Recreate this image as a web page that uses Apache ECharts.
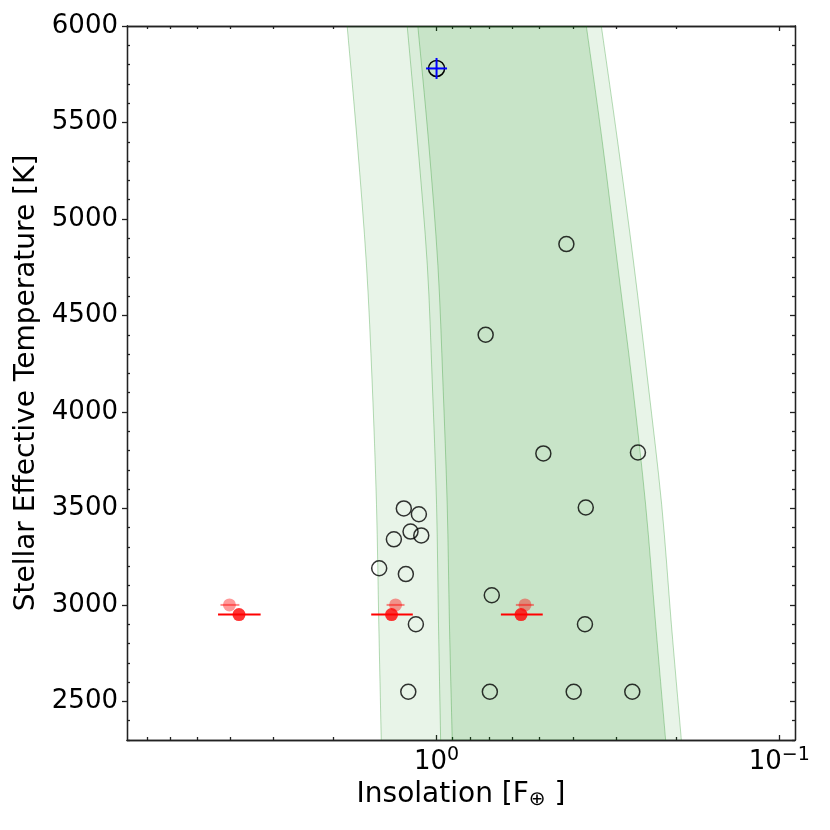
<!DOCTYPE html>
<html>
<head>
<meta charset="utf-8">
<script src="https://cdn.jsdelivr.net/npm/echarts@6/dist/echarts.min.js"></script>
<style>
  html, body { margin: 0; padding: 0; background: #fff; }
  #chart { width: 830px; height: 830px; }
</style>
</head>
<body>
<div id="chart"></div>
<script>
// 宜居带边界（从图上读出的 日照-有效温度 点）
const hzTemp      = [2300, 2900, 3520, 4150, 4760, 5400, 6000];
const recentVenus = [1.450, 1.474, 1.497, 1.541, 1.601, 1.704, 1.823];
const runaway5    = [0.973, 0.987, 1.000, 1.029, 1.064, 1.136, 1.218];
const runaway1    = [0.900, 0.917, 0.931, 0.958, 0.991, 1.055, 1.134];
const maxGreen    = [0.2146, 0.2295, 0.2455, 0.2685, 0.2962, 0.3284, 0.3656];
const earlyMars   = [0.1931, 0.2065, 0.2204, 0.2416, 0.2655, 0.2962, 0.3306];

// 已知行星（空心圆）
const planetS = [0.418, 0.719, 0.488, 0.2585, 1.246, 1.126, 0.367, 1.332, 1.191, 1.108,
                 1.470, 1.229, 0.690, 1.149, 0.369, 1.209, 0.699, 0.398, 0.2685];
const planetT = [4870, 4400, 3785, 3790, 3500, 3470, 3505, 3340, 3380, 3360,
                 3190, 3160, 3050, 2900, 2900, 2550, 2550, 2550, 2550];

// 太阳
const sunS = 1.0;
const sunT = 5780;

// 红色目标点及误差
const redS  = [3.77, 1.353, 0.567];
const redLo = [3.26, 1.173, 0.490];
const redHi = [4.34, 1.551, 0.649];
const redT  = [2950, 2950, 2950];
// 半透明点
const fadeS  = [4.02, 1.317, 0.552];
const fadeLo = [3.76, 1.240, 0.520];
const fadeHi = [4.27, 1.399, 0.587];
const fadeT  = [3000, 3000, 3000];

// 刻度
const xMajor = [0.1, 1];
const xMinor = [0.2, 0.3, 0.4, 0.5, 0.6, 0.7, 0.8, 0.9, 2, 3, 4, 5, 6, 7];
const yMajor = [2500, 3000, 3500, 4000, 4500, 5000, 5500, 6000];
const yMinor = [];
for (let v = 2300; v < 6000; v += 100) {
  if (v % 500 !== 0) yMinor.push(v);
}

const FONT = 'DejaVu Sans';
const chart = echarts.init(document.getElementById('chart'));

const spine = { color: '#222', width: 1.3 };

// 像素空间里的平滑曲线（Catmull-Rom -> 贝塞尔）
function curve(pts) {
  let d = '';
  for (let i = 0; i < pts.length - 1; i++) {
    const p0 = pts[i - 1] || pts[i];
    const p1 = pts[i];
    const p2 = pts[i + 1];
    const p3 = pts[i + 2] || p2;
    const c1x = p1[0] + (p2[0] - p0[0]) / 6, c1y = p1[1] + (p2[1] - p0[1]) / 6;
    const c2x = p2[0] - (p3[0] - p1[0]) / 6, c2y = p2[1] - (p3[1] - p1[1]) / 6;
    d += ' C' + c1x + ' ' + c1y + ' ' + c2x + ' ' + c2y + ' ' + p2[0] + ' ' + p2[1];
  }
  return d;
}

function toPx(api, vals) {
  return hzTemp.map((t, i) => api.coord([vals[i], t]));
}

// 带状区域：左边界 -> 右边界 围成闭合区域
function band(left, right, color) {
  return {
    type: 'custom',
    silent: true,
    clip: true,
    z: 1,
    data: [[1, 4000]],
    renderItem: (params, api) => {
      const a = toPx(api, left);
      const b = toPx(api, right).reverse();
      const d = 'M' + a[0][0] + ' ' + a[0][1] + curve(a) +
                ' L' + b[0][0] + ' ' + b[0][1] + curve(b) + ' Z';
      return { type: 'path', shape: { pathData: d }, style: { fill: color } };
    }
  };
}

// 边界线
const edgeSeries = {
  type: 'custom',
  silent: true,
  clip: true,
  z: 2,
  data: [[1, 4000]],
  renderItem: (params, api) => ({
    type: 'group',
    children: [recentVenus, runaway5, runaway1, maxGreen, earlyMars].map(vals => {
      const p = toPx(api, vals);
      return {
        type: 'path',
        shape: { pathData: 'M' + p[0][0] + ' ' + p[0][1] + curve(p) },
        style: { fill: 'none', stroke: 'rgba(0,128,0,0.28)', lineWidth: 1 }
      };
    })
  })
};

function errBars(s, lo, hi, t, color) {
  return {
    type: 'custom',
    silent: true,
    z: 4,
    data: s.map((v, i) => [v, t[i], lo[i], hi[i]]),
    renderItem: (params, api) => {
      const a = api.coord([api.value(2), api.value(1)]);
      const b = api.coord([api.value(3), api.value(1)]);
      return {
        type: 'line',
        shape: { x1: a[0], y1: a[1], x2: b[0], y2: b[1] },
        style: { stroke: color, lineWidth: 2 }
      };
    }
  };
}

const xBase = {
  type: 'log',
  logBase: 10,
  min: 0.09,
  max: 8,
  inverse: true,
  splitLine: { show: false },
  axisLine: { show: true, onZero: false, lineStyle: spine },
  axisLabel: { show: false },
  axisTick: { show: false }
};

const yBase = {
  type: 'value',
  min: 2300,
  max: 6000,
  splitLine: { show: false },
  axisLine: { show: true, onZero: false, lineStyle: spine },
  axisLabel: { show: false },
  axisTick: { show: false }
};

const option = {
  animation: false,
  backgroundColor: '#fff',
  grid: { left: 127, right: 35, top: 26, bottom: 90 },
  xAxis: [
    Object.assign({}, xBase, {
      position: 'bottom',
      name: '{a|Insolation [F}{s|⊕}{a| ]}',
      nameLocation: 'middle',
      nameGap: 34,
      nameTextStyle: {
        rich: {
          a: { fontFamily: FONT, fontSize: 28, color: '#000' },
          s: { fontFamily: FONT, fontSize: 20, color: '#000', padding: [10, 0, 0, 0] }
        }
      },
      axisTick: { show: true, inside: true, length: 5, customValues: xMajor, lineStyle: spine },
      axisLabel: {
        show: true,
        customValues: xMajor,
        margin: 6,
        formatter: v => {
          const e = Math.round(Math.log10(v));
          return '{b|10}{s|' + (e < 0 ? '\u2212' + (-e) : e) + '}';
        },
        rich: {
          b: { fontFamily: FONT, fontSize: 26, color: '#000' },
          s: { fontFamily: FONT, fontSize: 19, color: '#000', padding: [0, 0, 14, 0] }
        }
      }
    }),
    Object.assign({}, xBase, {
      position: 'top',
      axisTick: { show: true, inside: true, length: 5, customValues: xMajor, lineStyle: spine }
    }),
    Object.assign({}, xBase, {
      position: 'bottom',
      axisTick: { show: true, inside: true, length: 3, customValues: xMinor, lineStyle: spine }
    }),
    Object.assign({}, xBase, {
      position: 'top',
      axisTick: { show: true, inside: true, length: 3, customValues: xMinor, lineStyle: spine }
    })
  ],
  yAxis: [
    Object.assign({}, yBase, {
      position: 'left',
      name: 'Stellar Effective Temperature [K]',
      nameLocation: 'middle',
      nameGap: 80,
      nameTextStyle: { fontFamily: FONT, fontSize: 28, color: '#000' },
      axisTick: { show: true, inside: false, length: 5, customValues: yMajor, lineStyle: spine },
      axisLabel: {
        show: true,
        customValues: yMajor,
        margin: 9,
        formatter: v => String(v),
        fontFamily: FONT,
        fontSize: 26,
        color: '#000'
      }
    }),
    Object.assign({}, yBase, {
      position: 'right',
      axisTick: { show: true, inside: true, length: 5, customValues: yMajor, lineStyle: spine }
    }),
    Object.assign({}, yBase, {
      position: 'left',
      axisTick: { show: true, inside: true, length: 3, customValues: yMinor, lineStyle: spine }
    }),
    Object.assign({}, yBase, {
      position: 'right',
      axisTick: { show: true, inside: true, length: 3, customValues: yMinor, lineStyle: spine }
    })
  ],
  series: [
    band(recentVenus, earlyMars, 'rgba(0,128,0,0.09)'),
    band(runaway5, maxGreen, 'rgba(0,128,0,0.06)'),
    band(runaway1, maxGreen, 'rgba(0,128,0,0.08)'),
    edgeSeries,
    {
      type: 'scatter',
      z: 5,
      symbol: 'circle',
      symbolSize: 15,
      data: planetS.map((s, i) => [s, planetT[i]]),
      itemStyle: { color: 'rgba(0,0,0,0)', borderColor: '#000', borderWidth: 1.5 }
    },
    // 太阳符号：黑圈 + 蓝十字
    {
      type: 'custom',
      z: 6,
      data: [[sunS, sunT]],
      renderItem: (params, api) => {
        const c = api.coord([api.value(0), api.value(1)]);
        return {
          type: 'group',
          children: [
            { type: 'circle', shape: { cx: c[0], cy: c[1], r: 8 },
              style: { fill: 'none', stroke: '#000', lineWidth: 1.5 } },
            { type: 'line', shape: { x1: c[0] - 10.5, y1: c[1], x2: c[0] + 10.5, y2: c[1] },
              style: { stroke: '#0000ff', lineWidth: 2 } },
            { type: 'line', shape: { x1: c[0], y1: c[1] - 10.5, x2: c[0], y2: c[1] + 10.5 },
              style: { stroke: '#0000ff', lineWidth: 2 } }
          ]
        };
      }
    },
    errBars(fadeS, fadeLo, fadeHi, fadeT, 'rgba(255,0,0,0.45)'),
    {
      type: 'scatter',
      z: 4,
      symbolSize: 13,
      data: fadeS.map((s, i) => [s, fadeT[i]]),
      itemStyle: { color: 'rgba(255,0,0,0.5)' }
    },
    errBars(redS, redLo, redHi, redT, '#ff0000'),
    {
      type: 'scatter',
      z: 5,
      symbolSize: 13,
      data: redS.map((s, i) => [s, redT[i]]),
      itemStyle: { color: '#ff0000' }
    }
  ]
};

chart.setOption(option);
</script>
</body>
</html>
